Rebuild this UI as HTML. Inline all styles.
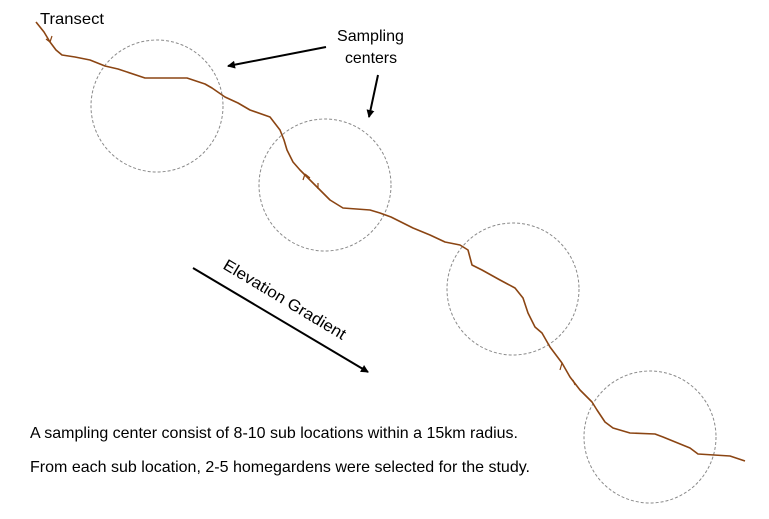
<!DOCTYPE html>
<html><head><style>
html,body{margin:0;padding:0;background:#fff;}
svg{display:block;font-family:"Liberation Sans",Arial,sans-serif;}
</style></head><body>
<svg width="769" height="519" viewBox="0 0 769 519">
<defs>
<marker id="ah" markerWidth="8" markerHeight="8" refX="7" refY="4" orient="auto" markerUnits="userSpaceOnUse">
<path d="M0,0 L8,4 L0,8 z" fill="#000"/>
</marker>
</defs>
<g fill="none" stroke="#8a8a8a" stroke-width="1" stroke-dasharray="3,2">
<circle cx="157" cy="106" r="66"/>
<circle cx="325" cy="185" r="66"/>
<circle cx="513" cy="289" r="66"/>
<circle cx="650" cy="437" r="66"/>
</g>
<polyline fill="none" stroke="#8B4513" stroke-width="1.6" stroke-linejoin="round" points="36,22 44,32 50,42 56,50 62,55 75,57 90,60 105,66 118,69 145,78 187,78 205,84 212,88 225,97 238,103 250,110 270,117 280,130 284,140 287,150 293,162 300,170 310,180 320,190 330,200 343,208 370,210 380,213 391,217 413,228 430,235 445,242 460,245 468,250 472,265 482,270 500,280 515,288 523,298 528,313 535,327 542,333 550,347 556,355 562,363 570,377 580,390 592,402 597,410 605,422 613,428 630,433 655,434 663,437 690,448 698,454 730,456 745,461"/>
<path d="M50,42 L52,36 M50,42 L46,39 M305,174 L303,180 M305,174 L310,178 M318,183 L318,189 M562,363 L560,370 M573,380 L575,385" stroke="#8B4513" stroke-width="1.2" fill="none"/>
<line x1="326" y1="47" x2="228" y2="66" stroke="#000" stroke-width="2" marker-end="url(#ah)"/>
<line x1="378" y1="75" x2="369" y2="117" stroke="#000" stroke-width="2" marker-end="url(#ah)"/>
<line x1="193" y1="268" x2="368" y2="372" stroke="#000" stroke-width="2" marker-end="url(#ah)"/>
<text x="40" y="24" font-size="16" fill="#000" textLength="64" lengthAdjust="spacingAndGlyphs">Transect</text>
<text x="337" y="41" font-size="16" fill="#000" textLength="67" lengthAdjust="spacingAndGlyphs">Sampling</text>
<text x="345" y="63" font-size="16" fill="#000" textLength="52" lengthAdjust="spacingAndGlyphs">centers</text>
<text transform="translate(222,268) rotate(31)" font-size="16" fill="#000" textLength="140" lengthAdjust="spacingAndGlyphs">Elevation Gradient</text>
<text x="30" y="438" font-size="16" fill="#000" textLength="488" lengthAdjust="spacingAndGlyphs">A sampling center consist of 8-10 sub locations within a 15km radius.</text>
<text x="30" y="472" font-size="16" fill="#000" textLength="500" lengthAdjust="spacingAndGlyphs">From each sub location, 2-5 homegardens were selected for the study.</text>
</svg>
</body></html>
